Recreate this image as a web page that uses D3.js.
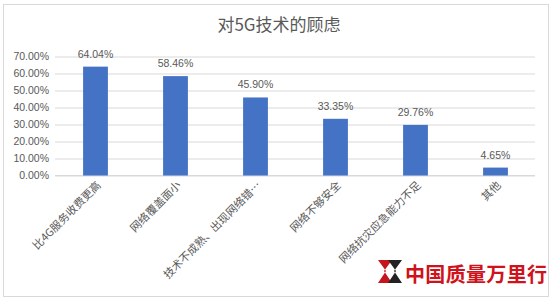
<!DOCTYPE html>
<html><head><meta charset="utf-8">
<script src="https://cdn.jsdelivr.net/npm/d3@7"></script>
<style>
html,body{margin:0;padding:0;background:#fff;}
svg{display:block;font-family:"Noto Sans CJK SC","Microsoft YaHei",sans-serif;}
</style></head>
<body><svg id="c" width="554" height="301"></svg>
<script>
const categories = ["比4G服务收费更高","网络覆盖面小","技术不成熟、出现网络错…","网络不够安全","网络抗灾应急能力不足","其他"];
const values = [64.04, 58.46, 45.90, 33.35, 29.76, 4.65];
const yTicks = [0,10,20,30,40,50,60,70];
const title = "对5G技术的顾虑";

const svg = d3.select("#c");
// chart frame
svg.append("rect").attr("x",3.5).attr("y",4.5).attr("width",545).attr("height",292)
  .attr("fill","#fff").attr("stroke","#d9d9d9");

const x = d3.scaleBand().domain(categories).range([55.5,535.5]).paddingInner(0.69).paddingOuter(0.345);
const y = d3.scaleLinear().domain([0,70]).range([175.5,56.5]);

svg.append("text").attr("x",279).attr("y",31).attr("text-anchor","middle")
  .attr("font-size",17).attr("fill","#595959").text(title);

// gridlines + tick labels
const ya = svg.append("g").attr("transform","translate(55,0)")
  .call(d3.axisLeft(y).tickValues(yTicks).tickSize(-480).tickFormat(d=>d.toFixed(2)+"%"));
ya.select(".domain").remove();
ya.selectAll(".tick line").attr("stroke","#d9d9d9");
ya.selectAll(".tick text").attr("fill","#595959").attr("font-size",10.5)
  .attr("font-family","Liberation Sans, Arial, sans-serif").attr("x",-6);

// axis baseline
svg.append("line").attr("x1",55).attr("x2",535).attr("y1",y(0)).attr("y2",y(0)).attr("stroke","#d9d9d9");

svg.selectAll("rect.bar").data(values).join("rect").attr("class","bar")
  .attr("x",(d,i)=>x(categories[i])).attr("width",x.bandwidth())
  .attr("y",d=>y(d)).attr("height",d=>y(0)-y(d)).attr("fill","#4472c4");

svg.selectAll("text.val").data(values).join("text").attr("class","val")
  .attr("x",(d,i)=>x(categories[i])+x.bandwidth()/2).attr("y",d=>y(d)-9)
  .attr("text-anchor","middle").attr("font-size",10.5).attr("fill","#595959")
  .attr("font-family","Liberation Sans, Arial, sans-serif")
  .text(d=>d.toFixed(2)+"%");

// rotated category labels
svg.selectAll("text.cat").data(categories).join("text").attr("class","cat")
  .attr("transform",d=>`translate(${x(d)+x.bandwidth()/2+6},${186}) rotate(-45)`)
  .attr("text-anchor","end").attr("font-size",11).attr("fill","#595959").text(d=>d);

// watermark
const wm = svg.append("g");
wm.append("path").attr("d","M378,260 L392,260 L384,271 L392,283 L378,283 L386,271 Z").attr("fill","#c4161c");
wm.append("path").attr("d","M388,260 L402,260 L394,271 L402,283 L388,283 L396,271 Z").attr("fill","#222");
wm.append("text").attr("x",405).attr("y",282).attr("font-size",20).attr("font-weight","bold")
  .attr("fill","#d0121b").attr("textLength",142).text("中国质量万里行");
</script></body></html>
